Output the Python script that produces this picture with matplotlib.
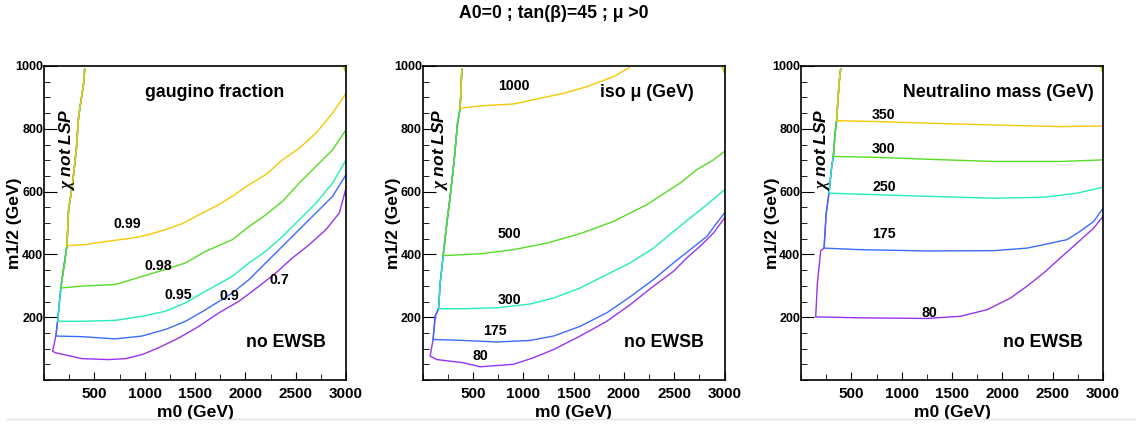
import matplotlib
matplotlib.use("Agg")
import matplotlib.pyplot as plt
from matplotlib.lines import Line2D
from matplotlib.ticker import MultipleLocator

plt.rcParams['font.family'] = ['Liberation Sans', 'DejaVu Sans']
plt.rcParams['font.weight'] = 'bold'
plt.rcParams['mathtext.fontset'] = 'custom'
plt.rcParams['mathtext.it'] = 'Liberation Serif:italic'

title = 'A0=0 ; tan(β)=45 ; μ >0'

# ---- panel 1 : gaugino fraction ----
gf_levels = ['0.99', '0.98', '0.95', '0.9', '0.7']
gf_edge_m0 = [85, 118, 135, 167, 228, 244, 284, 321, 344, 394, 404]
gf_edge_m12 = [92, 140, 187, 293, 428, 542, 627, 733, 839, 945, 990]
gf_m0 = [
    [228, 410, 543, 875, 1041, 1207, 1373, 1539, 1705, 1871, 2037, 2203, 2369, 2535, 2701, 2867, 3000],
    [167, 377, 709, 975, 1207, 1406, 1606, 1871, 2037, 2203, 2369, 2535, 2701, 2867, 3000],
    [135, 377, 709, 975, 1207, 1406, 1606, 1871, 2037, 2203, 2369, 2535, 2701, 2867, 3000],
    [118, 377, 709, 975, 1207, 1406, 1606, 1871, 2037, 2203, 2369, 2535, 2701, 2867, 3000],
    [85, 112, 377, 643, 809, 975, 1141, 1340, 1539, 1738, 1938, 2137, 2303, 2469, 2635, 2801, 2934, 3000],
]
gf_m12 = [
    [428, 431, 438, 452, 463, 479, 498, 526, 553, 585, 622, 654, 701, 738, 786, 850, 913],
    [293, 299, 304, 330, 352, 373, 410, 447, 489, 526, 569, 627, 680, 733, 797],
    [187, 187, 190, 203, 219, 246, 283, 330, 373, 410, 457, 510, 563, 627, 701],
    [140, 138, 131, 140, 161, 187, 224, 277, 320, 373, 426, 479, 532, 585, 654],
    [92, 87, 68, 65, 68, 81, 103, 134, 171, 214, 251, 299, 341, 389, 431, 479, 532, 611],
]

# ---- panel 2 : iso mu ----
mu_levels = ['1000', '500', '300', '175', '80']
mu_edge_m0 = [76, 105, 126, 159, 176, 205, 242, 275, 315, 348, 374, 391]
mu_edge_m12 = [76, 129, 203, 227, 309, 396, 500, 585, 701, 818, 865, 990]
mu_m0 = [
    [374, 573, 904, 1136, 1401, 1632, 1897, 2056],
    [205, 573, 904, 1235, 1566, 1897, 2228, 2394, 2559, 2725, 2890, 3000],
    [159, 407, 739, 1070, 1302, 1566, 1831, 2063, 2295, 2493, 2659, 2824, 3000],
    [105, 407, 739, 1070, 1302, 1566, 1831, 2063, 2295, 2493, 2659, 2824, 2923, 3000],
    [76, 142, 407, 573, 904, 1103, 1302, 1566, 1831, 2063, 2295, 2493, 2626, 2758, 2890, 3000],
]
mu_m12 = [
    [865, 873, 879, 895, 913, 934, 966, 995],
    [396, 402, 415, 436, 466, 505, 558, 593, 627, 670, 701, 728],
    [227, 227, 230, 242, 261, 293, 336, 373, 420, 473, 516, 558, 606],
    [129, 126, 121, 126, 140, 171, 214, 265, 320, 373, 415, 457, 500, 532],
    [76, 65, 55, 42, 50, 71, 97, 140, 187, 240, 299, 346, 389, 426, 468, 516],
]

# ---- panel 3 : neutralino mass ----
nm_levels = ['350', '300', '250', '175', '80']
nm_edge_m0 = [146, 163, 196, 229, 250, 278, 305, 321, 340, 354, 378, 394]
nm_edge_m12 = [201, 309, 412, 420, 530, 595, 680, 712, 790, 826, 945, 990]
nm_m0 = [
    [354, 758, 1254, 1915, 2577, 3000],
    [321, 758, 1254, 1915, 2577, 3000],
    [278, 758, 1254, 1915, 2411, 2742, 3000],
    [229, 593, 1254, 1915, 2246, 2511, 2643, 2775, 2908, 3000],
    [146, 593, 1254, 1585, 1849, 2081, 2246, 2411, 2577, 2742, 2908, 3000],
]
nm_m12 = [
    [826, 823, 818, 812, 807, 809],
    [712, 709, 703, 696, 696, 701],
    [595, 590, 585, 579, 582, 595, 614],
    [420, 415, 411, 412, 420, 438, 447, 474, 505, 547],
    [201, 198, 196, 203, 224, 261, 299, 341, 389, 436, 484, 521],
]

corner_m0 = [2975, 3000]
corner_m12 = [1000, 978]

colors = ['#f5c800', '#55dd22', '#22eebb', '#3a6cff', '#9a33ee']

panels = [
    dict(levels=gf_levels, edge=(gf_edge_m0, gf_edge_m12), m0=gf_m0, m12=gf_m12,
         name='gaugino fraction', name_xy=(1699, 916), lsp_x=228,
         label_xy=[(826, 498), (1131, 362), (1330, 272), (1838, 267), (2336, 317)]),
    dict(levels=mu_levels, edge=(mu_edge_m0, mu_edge_m12), m0=mu_m0, m12=mu_m12,
         name='iso μ (GeV)', name_xy=(2232, 916), lsp_x=176,
         label_xy=[(904, 936), (864, 465), (864, 256), (715, 155), (573, 76)]),
    dict(levels=nm_levels, edge=(nm_edge_m0, nm_edge_m12), m0=nm_m0, m12=nm_m12,
         name='Neutralino mass (GeV)', name_xy=(1965, 916), lsp_x=212,
         label_xy=[(824, 844), (824, 736), (824, 614), (824, 466), (1280, 214)]),
]

lefts = [44, 422.5, 801]
W, H = 1141, 428

fig = plt.figure(figsize=(W / 100, H / 100), dpi=100)
fig.text(554 / W, 1 - 14 / H, title, ha='center', va='center', fontsize=12.7, fontweight='bold')

for p, left in zip(panels, lefts):
    ax = fig.add_axes([left / W, 48 / H, 302 / W, 314 / H])
    ax.set_xlim(0, 3000)
    ax.set_ylim(0, 1000)
    em0, em12 = p['edge']
    # draw lowest contour first so upper ones sit on top along the edge
    for i in reversed(range(len(p['levels']))):
        xs, ys = p['m0'][i], p['m12'][i]
        top = [(a, b) for a, b in zip(em0, em12) if b > ys[0]]
        top.reverse()
        px = [t[0] for t in top] + xs
        py = [t[1] for t in top] + ys
        ax.plot(px, py, color=colors[i], lw=1.0)
        lx, ly = p['label_xy'][i]
        ax.text(lx, ly, p['levels'][i], ha='center', va='center', fontsize=10.2, fontweight='bold')
    ax.plot(corner_m0, corner_m12, color='#aadd00', lw=1.2)
    ax.text(p['name_xy'][0], p['name_xy'][1], p['name'], ha='center', va='center',
            fontsize=12.8, fontweight='bold')
    ax.text(2400, 118, 'no EWSB', ha='center', va='center', fontsize=12.8, fontweight='bold')
    ax.text(p['lsp_x'], 733, r'$\chi$ not LSP', rotation=90, ha='center', va='center',
            fontsize=12.5, fontweight='bold', style='italic')

    ax.xaxis.set_major_locator(MultipleLocator(500))
    ax.xaxis.set_minor_locator(MultipleLocator(250))
    ax.yaxis.set_major_locator(MultipleLocator(200))
    ax.yaxis.set_minor_locator(MultipleLocator(50))
    ax.tick_params(axis='both', which='both', direction='in', top=False, right=False)
    ax.tick_params(axis='x', which='major', length=6, labelsize=11, pad=5)
    ax.tick_params(axis='x', which='minor', length=4)
    ax.tick_params(axis='y', which='major', length=9, labelsize=9, pad=0.5)
    ax.tick_params(axis='y', which='minor', length=4.5)
    ax.set_xticks([500, 1000, 1500, 2000, 2500, 3000])
    ax.set_yticks([200, 400, 600, 800, 1000])
    for lab in ax.get_xticklabels() + ax.get_yticklabels():
        lab.set_fontweight('bold')
    for s in ax.spines.values():
        s.set_linewidth(1.2)
    ax.set_xlabel('m0 (GeV)', fontsize=12.6, fontweight='bold', va='center')
    ax.set_ylabel('m1/2 (GeV)', fontsize=12.6, fontweight='bold', va='center')
    ax.xaxis.set_label_coords(0.5, -32 / 314)
    ax.yaxis.set_label_coords(-29 / 302, 0.5)

fig.add_artist(Line2D([7 / W, 1135 / W], [1 - 419 / H, 1 - 419 / H], color='#e2e2e2', lw=1))

fig.savefig('out.png', dpi=100)
